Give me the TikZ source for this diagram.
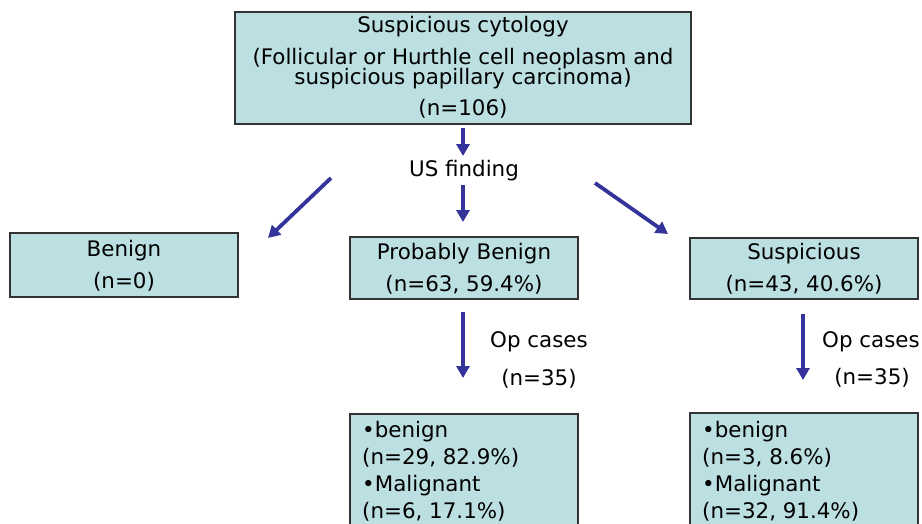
\documentclass[tikz,border=0pt]{standalone}
\usepackage{fontspec}
\setmainfont{DejaVu Sans}
\usetikzlibrary{arrows.meta}
\definecolor{boxfill}{HTML}{BCDFE2}
\definecolor{arrowblue}{HTML}{333399}
\begin{document}
\begin{tikzpicture}[x=1pt,y=-1pt,
  box/.style={draw=black!80, line width=1.2pt, fill=boxfill, inner sep=0pt},
  txt/.style={inner sep=0pt, font=\fontsize{21.4}{21.4}\selectfont, text height=15.6pt, text depth=0pt},
  ltxt/.style={txt, anchor=west},
  flow/.style={draw=arrowblue, line width=3.8pt, -{Triangle[length=12pt,width=13pt]}}]
\clip (0,0) rectangle (922,523);

% boxes
\node[box, minimum width=456pt, minimum height=112pt] (top) at (463,68) {};
\node[box, minimum width=228pt, minimum height=64pt] (benign) at (124,265) {};
\node[box, minimum width=228pt, minimum height=62pt] (prob) at (464,268) {};
\node[box, minimum width=228pt, minimum height=61pt] (susp) at (804,268.5) {};
\node[box, minimum width=228pt, minimum height=126pt] (probres) at (464,477) {};
\node[box, minimum width=228pt, minimum height=127pt] (suspres) at (804,476.5) {};

% texts
\node[txt] (t1) at (463,25) {Suspicious cytology};
\node[txt] (t2) at (463,57) {(Follicular or Hurthle cell neoplasm and};
\node[txt] (t3) at (463,77) {suspicious papillary carcinoma)};
\node[txt] (t4) at (463,108) {(n=106)};
\node[txt] (us) at (464,169) {US finding};
\node[txt] (b1) at (124,249) {Benign};
\node[txt] (b2) at (124,281) {(n=0)};
\node[txt] (p1) at (464,252) {Probably Benign};
\node[txt] (p2) at (464,284) {(n=63, 59.4\%)};
\node[txt] (s1) at (804,252) {Suspicious};
\node[txt] (s2) at (804,284) {(n=43, 40.6\%)};
\node[txt] (op1) at (539,340) {Op cases};
\node[txt] (n1) at (539,378) {(n=35)};
\node[txt] (op2) at (871,340) {Op cases};
\node[txt] (n2) at (872,377) {(n=35)};
\node[ltxt] (pr1) at (362,430) {•benign};
\node[ltxt] (pr2) at (362,457) {(n=29, 82.9\%)};
\node[ltxt] (pr3) at (362,484) {•Malignant};
\node[ltxt] (pr4) at (362,511) {(n=6, 17.1\%)};
\node[ltxt] (sr1) at (702,430) {•benign};
\node[ltxt] (sr2) at (702,457) {(n=3, 8.6\%)};
\node[ltxt] (sr3) at (702,484) {•Malignant};
\node[ltxt] (sr4) at (702,511) {(n=32, 91.4\%)};

% arrow end points
\coordinate (topA) at (463,128);
\coordinate (topB) at (463,156);
\coordinate (leftA) at (331,178);
\coordinate (leftB) at (268,238);
\coordinate (midA) at (463,185);
\coordinate (midB) at (463,222);
\coordinate (rightA) at (595,183);
\coordinate (rightB) at (668,234);
\coordinate (opA) at (463,312);
\coordinate (opB) at (463,378);
\coordinate (opC) at (803,314);
\coordinate (opD) at (803,380);

% arrows
\draw[flow] (topA) -- (topB);
\draw[flow] (leftA) -- (leftB);
\draw[flow] (midA) -- (midB);
\draw[flow] (rightA) -- (rightB);
\draw[flow] (opA) -- (opB);
\draw[flow] (opC) -- (opD);
\end{tikzpicture}
\end{document}
